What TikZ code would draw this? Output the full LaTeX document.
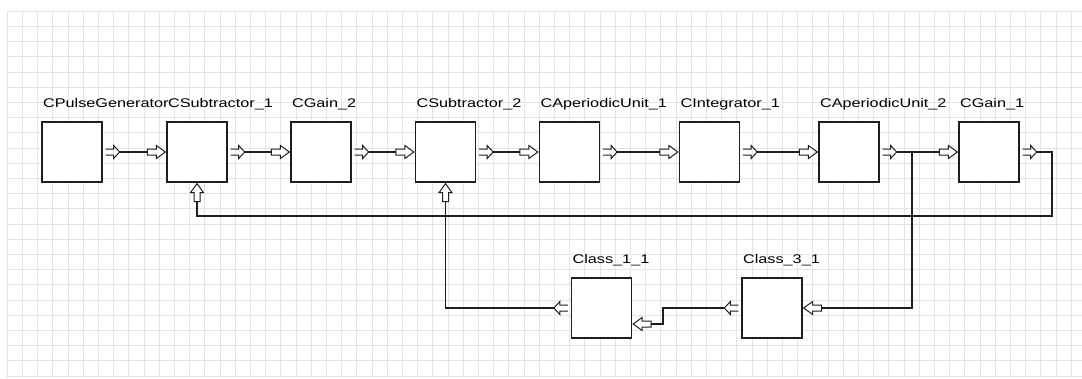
\documentclass[tikz,border=0pt]{standalone}
\usepackage{fontspec}
\newfontfamily\lblfont[FakeStretch=1.29]{Liberation Sans}
\definecolor{gridgray}{RGB}{228,228,228}
\definecolor{wire}{RGB}{30,30,30}

\begin{document}
\begin{tikzpicture}[x=1pt, y=-1pt,
    blk/.style={draw=wire, line width=1.3pt, fill=white, minimum size=60pt, inner sep=0pt},
    lbl/.style={anchor=base west, inner sep=0pt, font=\lblfont\fontsize{12.6}{14}\selectfont, xshift=1.5pt, yshift=14pt},
    wireline/.style={draw=wire, line width=1.1pt},
    portline/.style={draw=wire, line width=1pt},
    gridline/.style={draw=gridgray, line width=0.6pt},
    outport/.pic={\draw[portline] (0,-3) -- (8,-3) -- (8,-6.5) -- (14,0) -- (8,6.5) -- (8,3) -- (0,3);
      \coordinate (-tip) at (14,0);},
    inport/.pic={\draw[portline, fill=white] (-18,-3) -- (-9,-3) -- (-9,-6.5) -- (0,0) -- (-9,6.5) -- (-9,3) -- (-18,3) -- cycle;
      \coordinate (-tail) at (-18,0);}
  ]
    \useasboundingbox[fill=white] (0,0) rectangle (1082,378);

    % background grid
    \foreach \i in {0,...,70}
      \draw[gridline] ({7+15.2*\i},11) -- ({7+15.2*\i},378);
    \foreach \j in {0,...,24}
      \draw[gridline] (7,{11+15.2*\j}) -- (1082,{11+15.2*\j});

    % blocks
    \node[blk] (gen) at (72,152) {};
    \node[blk] (sub1) at (197,152) {};
    \node[blk] (gain2) at (321,152) {};
    \node[blk] (sub2) at (445.5,152) {};
    \node[blk] (aper1) at (569.5,152) {};
    \node[blk] (integ) at (709.5,152) {};
    \node[blk] (aper2) at (849,152) {};
    \node[blk] (gain1) at (989,152) {};
    \node[blk] (cls1) at (601.5,308) {};
    \node[blk] (cls3) at (772,308) {};

    \node[lbl] (genlbl) at (gen.north west) {CPulseGenerator};
    \node[lbl] (sub1lbl) at (sub1.north west) {CSubtractor\_1};
    \node[lbl] (gain2lbl) at (gain2.north west) {CGain\_2};
    \node[lbl] (sub2lbl) at (sub2.north west) {CSubtractor\_2};
    \node[lbl] (aper1lbl) at (aper1.north west) {CAperiodicUnit\_1};
    \node[lbl] (integlbl) at (integ.north west) {CIntegrator\_1};
    \node[lbl] (aper2lbl) at (aper2.north west) {CAperiodicUnit\_2};
    \node[lbl] (gain1lbl) at (gain1.north west) {CGain\_1};
    \node[lbl] (cls1lbl) at (cls1.north west) {Class\_1\_1};
    \node[lbl] (cls3lbl) at (cls3.north west) {Class\_3\_1};

    % ports
    \pic (genout) at ([xshift=3pt]gen.east) {outport};
    \pic (sub1in) at ([xshift=-1pt]sub1.west) {inport};
    \pic[rotate=90] (sub1fb) at ([yshift=-1pt]sub1.south) {inport};
    \pic (sub1out) at ([xshift=3pt]sub1.east) {outport};
    \pic (gain2in) at ([xshift=-1pt]gain2.west) {inport};
    \pic (gain2out) at ([xshift=3pt]gain2.east) {outport};
    \pic (sub2in) at ([xshift=-1pt]sub2.west) {inport};
    \pic[rotate=90] (sub2fb) at ([yshift=-1pt]sub2.south) {inport};
    \pic (sub2out) at ([xshift=3pt]sub2.east) {outport};
    \pic (aper1in) at ([xshift=-1pt]aper1.west) {inport};
    \pic (aper1out) at ([xshift=3pt]aper1.east) {outport};
    \pic (integin) at ([xshift=-1pt]integ.west) {inport};
    \pic (integout) at ([xshift=3pt]integ.east) {outport};
    \pic (aper2in) at ([xshift=-1pt]aper2.west) {inport};
    \pic (aper2out) at ([xshift=3pt]aper2.east) {outport};
    \pic (gain1in) at ([xshift=-1pt]gain1.west) {inport};
    \pic (gain1out) at ([xshift=3pt]gain1.east) {outport};
    \pic[rotate=180] (cls3in) at ([xshift=1pt]cls3.east) {inport};
    \pic[rotate=180] (cls3out) at ([xshift=-3pt]cls3.west) {outport};
    \pic[rotate=180] (cls1in) at ([xshift=1pt,yshift=-16pt]cls1.east) {inport};
    \pic[rotate=180] (cls1out) at ([xshift=-3pt]cls1.west) {outport};

    % forward chain
    \draw[wireline] (genout-tip) -- (sub1in-tail);
    \draw[wireline] (sub1out-tip) -- (gain2in-tail);
    \draw[wireline] (gain2out-tip) -- (sub2in-tail);
    \draw[wireline] (sub2out-tip) -- (aper1in-tail);
    \draw[wireline] (aper1out-tip) -- (integin-tail);
    \draw[wireline] (integout-tip) -- (aper2in-tail);
    \draw[wireline] (aper2out-tip) -- (gain1in-tail);

    % feedback paths
    \coordinate (split) at (912,152);
    \coordinate (fbcorner) at (1052,216);
    \coordinate (cbend) at (663,308);
    \draw[wireline] (split) |- (cls3in-tail);
    \draw[wireline] (gain1out-tip) -| (fbcorner) -| (sub1fb-tail);
    \draw[wireline] (cls3out-tip) -- (cbend) |- (cls1in-tail);
    \draw[wireline] (cls1out-tip) -| (sub2fb-tail);
  \end{tikzpicture}
\end{document}
